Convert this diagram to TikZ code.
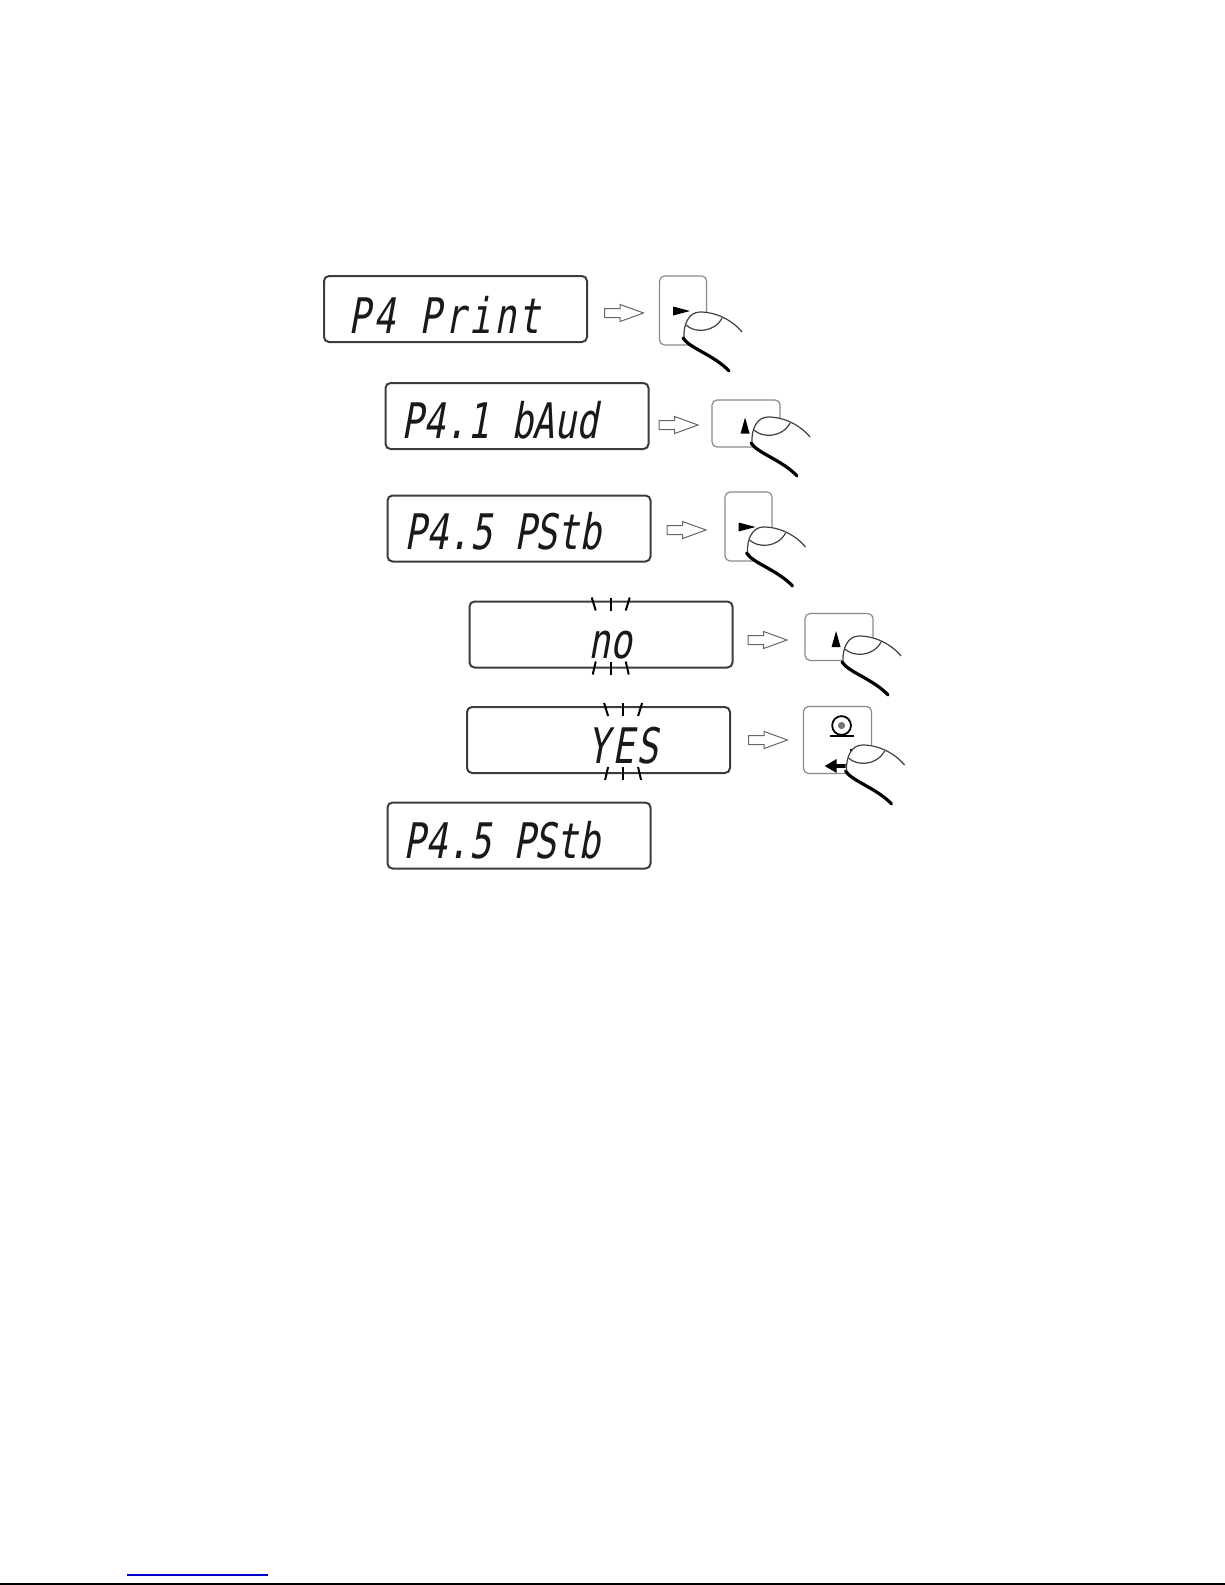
\documentclass[tikz,border=0pt]{standalone}
\usepackage{fontspec}
\usepackage{xcolor}
\usepackage{tikz}
\usetikzlibrary{positioning,shapes.arrows,arrows.meta}
\newfontfamily\lcdfont[FakeSlant=0.18,FakeStretch=0.74]{DejaVu Sans Mono}
\newfontfamily\lcdwidefont[FakeSlant=0.18,FakeStretch=0.74,LetterSpace=6]{DejaVu Sans Mono}
\definecolor{lcdframe}{HTML}{3C3C3C}
\definecolor{keyframe}{HTML}{8A8A8A}
\definecolor{linkblue}{HTML}{0000CC}

\tikzset{
  display/.style={draw=lcdframe, line width=1pt, rounded corners=2.5pt,
    minimum width=131.5pt, minimum height=33pt, inner sep=0pt},
  lcdtext/.style={inner sep=0pt, anchor=base west, text=black!90,
    font=\lcdfont\fontsize{24.5}{28}\selectfont},
  lcdwide/.style={lcdtext, font=\lcdwidefont\fontsize{24.5}{28}\selectfont},
  pushto/.style={single arrow, draw=black!60, line width=0.5pt, inner sep=0pt,
    text height=2pt, text depth=2pt, minimum height=19.5pt,
    single arrow head extend=2pt, single arrow tip angle=40},
  tallkey/.style={draw=keyframe, line width=0.6pt, rounded corners=2.5pt,
    minimum width=23.5pt, minimum height=34.5pt, inner sep=0pt},
  widekey/.style={tallkey, minimum width=34pt, minimum height=23.5pt},
  squarekey/.style={tallkey, minimum width=34pt, minimum height=33.5pt},
  blink/.style={black, line width=1pt},
  fingerline/.style={draw=black!75, line width=0.6pt},
  fingerink/.style={black, line width=1.6pt, line cap=round},
  finger/.pic={
    \fill[white] (-3,10) .. controls (-4,-4) and (3,-16) .. (14,-16)
      .. controls (30,-16) and (46,-8) .. (56,4) -- (62,36) -- (43,43)
      .. controls (28,27) and (3,20) .. (-3,10) -- cycle;
    \draw[fingerline] (-2,10) .. controls (-3,-4) and (3,-16) .. (14,-16)
      .. controls (30,-16) and (46,-8) .. (56,4);
    \draw[fingerline] (0,-3) .. controls (8,5) and (28,5) .. (36,-10);
    \draw[fingerink] (-3,10) .. controls (3,20) and (28,27) .. (43,43);
  },
  rightmark/.pic={\fill (-10,-4) -- (7,0.5) -- (-10,5) -- cycle;},
  upmark/.pic={\fill (-1,-7) -- (3.5,9) -- (-5.5,9) -- cycle;}
}

\begin{document}
\begin{tikzpicture}[x=0.5pt,y=-0.5pt]
\useasboundingbox (0,0) rectangle (1225,1585);

% displays
\node[display] (d1) at (455.5,309) {};
\node[display] (d2) at (517,416) {};
\node[display] (d3) at (519,528.5) {};
\node[display] (d4) at (601,634.5) {};
\node[display] (d5) at (598.5,740) {};
\node[display] (d6) at (519,835.5) {};

\node[lcdwide] (t1) at ([shift={(25,-10)}]d1.south west) {P4 Print};
\node[lcdtext] (t2) at ([shift={(17,-12)}]d2.south west) {P4.1 bAud};
\node[lcdtext] (t3) at ([shift={(18,-13)}]d3.south west) {P4.5 PStb};
\node[lcdtext] (t4) at ([shift={(120,-10)}]d4.south west) {no};
\node[lcdwide] (t5) at ([shift={(121,-11)}]d5.south west) {YES};
\node[lcdtext] (t6) at ([shift={(17,-11)}]d6.south west) {P4.5 PStb};

% blinking
\coordinate (b4) at (t4.center |- d4.center);
\coordinate (b5) at (t5.center |- d5.center);
\foreach \c in {b4,b5}
  \foreach \s in {-1,0,1} {
    \draw[blink] ([shift={(19*\s,-37)}]\c) -- ([shift={(15*\s,-24)}]\c);
    \draw[blink] ([shift={(15*\s,27)}]\c) -- ([shift={(18*\s,40)}]\c);
  }

% arrows and keys
\node[pushto, right=8pt of d1, yshift=-2pt] (a1) {};
\node[pushto, right=4.5pt of d2, yshift=-4.5pt] (a2) {};
\node[pushto, right=7.5pt of d3, yshift=-0.75pt] (a3) {};
\node[pushto, right=7pt of d4, yshift=-2.75pt] (a4) {};
\node[pushto, right=8.5pt of d5] (a5) {};

\node[tallkey, right=7pt of a1, yshift=1.25pt] (k1) {};
\node[widekey, right=6pt of a2, yshift=0.75pt] (k2) {};
\node[tallkey, right=8.5pt of a3, yshift=1.75pt] (k3) {};
\node[widekey, right=8pt of a4, yshift=1.5pt] (k4) {};
\node[squarekey, right=7pt of a5] (k5) {};

\pic at (k1.center) {rightmark};
\pic at ([shift={(0,1)}]k2.center) {upmark};
\pic at (k3.center) {rightmark};
\pic at ([shift={(-2,1)}]k4.center) {upmark};

% print / enter key
\draw[line width=0.9pt] ([shift={(4,-14.5)}]k5.center) circle[radius=4.7pt];
\fill[black!55] ([shift={(4,-14.5)}]k5.center) circle[radius=1.8pt];
\draw[line width=1.2pt] ([shift={(-8,-4)}]k5.center) -- ([shift={(16,-4)}]k5.center);
\draw[line width=1.6pt, -{Triangle[length=6pt,width=6.5pt]}]
  ([shift={(14,9)}]k5.center) |- ([shift={(-13,26)}]k5.center);

\pic at ([shift={(3,17.5)}]k1.center) {finger};
\pic at ([shift={(8,9.5)}]k2.center) {finger};
\pic at ([shift={(1,16.5)}]k3.center) {finger};
\pic at ([shift={(6,15)}]k4.center) {finger};
\pic at ([shift={(11,21)}]k5.center) {finger};

% page foot
\draw[linkblue, line width=1pt] (127,1575) -- (268,1575);
\draw[black, line width=1pt] (0,1584) -- (1225,1584);
\end{tikzpicture}
\end{document}
